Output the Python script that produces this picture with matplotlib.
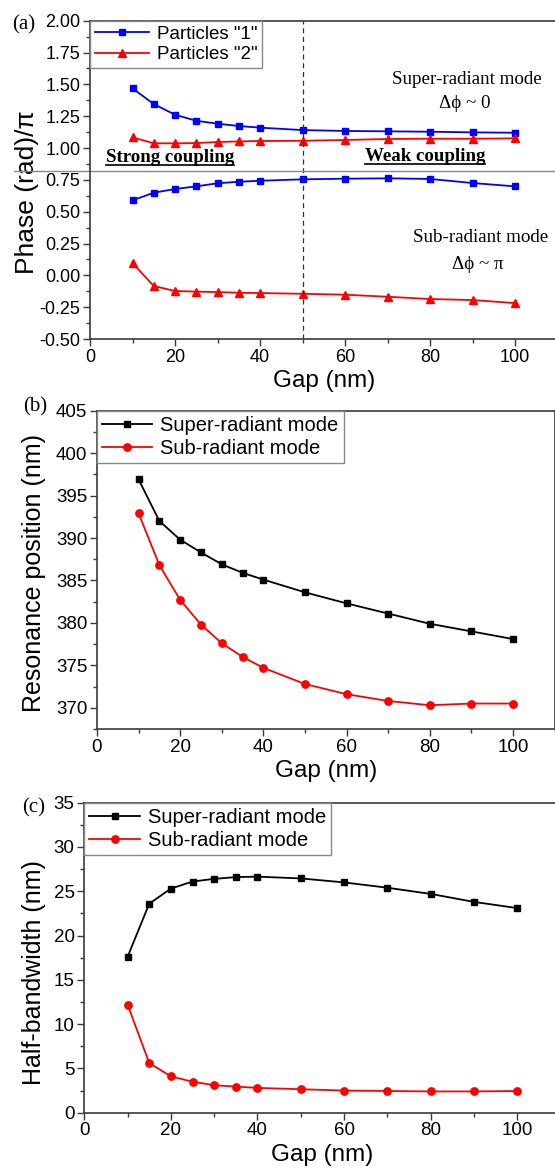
import matplotlib
matplotlib.use('Agg')
import matplotlib.pyplot as plt
from matplotlib.ticker import MultipleLocator
from matplotlib.lines import Line2D

plt.rcParams['font.family'] = ['Liberation Sans', 'DejaVu Sans']

gap_a = [10, 15, 20, 25, 30, 35, 40, 50, 60, 70, 80, 90, 100]
p1_super = [1.469, 1.345, 1.262, 1.214, 1.191, 1.173, 1.160, 1.141, 1.134, 1.131, 1.128, 1.123, 1.120]
p2_super = [1.084, 1.037, 1.037, 1.039, 1.047, 1.052, 1.055, 1.057, 1.063, 1.071, 1.073, 1.073, 1.076]
p1_sub = [0.589, 0.649, 0.678, 0.699, 0.723, 0.735, 0.743, 0.754, 0.759, 0.762, 0.757, 0.725, 0.699]
p2_sub = [0.097, -0.084, -0.123, -0.128, -0.131, -0.137, -0.139, -0.145, -0.152, -0.168, -0.186, -0.194, -0.218]

gap = [10, 15, 20, 25, 30, 35, 40, 50, 60, 70, 80, 90, 100]
res_super = [396.9, 392.0, 389.8, 388.3, 386.9, 385.9, 385.1, 383.6, 382.3, 381.1, 379.9, 379.0, 378.1]
res_sub = [392.9, 386.8, 382.7, 379.8, 377.6, 376.0, 374.7, 372.8, 371.6, 370.8, 370.3, 370.5, 370.5]
hbw_super = [17.6, 23.6, 25.3, 26.1, 26.4, 26.6, 26.65, 26.45, 26.0, 25.4, 24.7, 23.8, 23.1]
hbw_sub = [12.2, 5.6, 4.1, 3.5, 3.1, 2.95, 2.8, 2.65, 2.5, 2.45, 2.4, 2.4, 2.45]

W, H = 555, 1176
fig = plt.figure(figsize=(W / 100, H / 100), dpi=100)
serif = ['Liberation Serif', 'DejaVu Serif']


def px_axes(left, top, bottom, px_per_unit, xmax=110):
    width = xmax * px_per_unit
    return fig.add_axes([left / W, 1 - bottom / H, width / W, (bottom - top) / H])


def style(ax, ymajor, yminor, tsize):
    for s in ax.spines.values():
        s.set_color('#3a3a3a')
        s.set_linewidth(1.2)
    ax.set_xlim(0, 110)
    ax.xaxis.set_major_locator(MultipleLocator(20))
    ax.xaxis.set_minor_locator(MultipleLocator(10))
    ax.yaxis.set_major_locator(MultipleLocator(ymajor))
    ax.yaxis.set_minor_locator(MultipleLocator(yminor))
    ax.tick_params(which='both', direction='out', top=False, right=False,
                   labelsize=tsize, color='#3a3a3a', width=1.0)
    ax.tick_params(which='major', length=5, pad=2)
    ax.tick_params(which='minor', length=3)
    ax.set_xlabel('Gap (nm)', fontsize=17.5, labelpad=3)


def legend(ax, size, hl):
    leg = ax.legend(loc='upper left', borderaxespad=0, fontsize=size, handlelength=hl,
                    fancybox=False, framealpha=1, edgecolor='#888888',
                    borderpad=0.25, labelspacing=0.2, handletextpad=0.4)
    leg.get_frame().set_linewidth(1.0)
    return leg


# ---- panel (a)
ax = px_axes(90, 20.7, 339, 4.25)
ax.plot(gap_a, p1_super, color='blue', marker='s', ms=4.8, lw=1.3, label='Particles "1"')
ax.plot(gap_a, p2_super, color='red', marker='^', ms=5.3, lw=1.3, label='Particles "2"')
ax.plot(gap_a, p1_sub, color='blue', marker='s', ms=4.8, lw=1.3)
ax.plot(gap_a, p2_sub, color='red', marker='^', ms=5.3, lw=1.3)
ax.set_ylim(-0.5, 2.0)
style(ax, 0.25, 0.125, 13)
ax.yaxis.set_major_formatter(lambda v, p: f'{v:.2f}')
ax.set_ylabel('Phase (rad)/\u03c0', fontsize=19)
ax.yaxis.set_label_coords(-0.109, 0.462)
ax.axvline(50, color='#333333', lw=0.9, ls=(0, (4, 3)))
ax.axhline(0.822, xmin=-0.163, xmax=1.1, color='#888888', lw=1.0, clip_on=False)
legend(ax, 13.5, 2.9)

ax.text(88.7, 1.542, 'Super-radiant mode', ha='center', va='center', family=serif, fontsize=13.7)
ax.text(88.2, 1.346, '\u0394\u03d5 ~ 0', ha='center', va='center', family=serif, fontsize=13.7)
ax.text(92.0, 0.300, 'Sub-radiant mode', ha='center', va='center', family=serif, fontsize=13.7)
ax.text(91.2, 0.088, '\u0394\u03d5 ~ \u03c0', ha='center', va='center', family=serif, fontsize=13.7)
t1 = ax.text(3.8, 0.922, 'Strong coupling', ha='left', va='center', family=serif,
             fontsize=13.6, fontweight='bold')
t2 = ax.text(64.7, 0.937, 'Weak coupling', ha='left', va='center', family=serif,
             fontsize=13.6, fontweight='bold')
fig.text(12 / W, 1 - 25 / H, '(a)', family=serif, fontsize=15, va='center')

# ---- panel (b)
bx = px_axes(97, 410.7, 729, 4.16)
bx.plot(gap, res_super, color='black', marker='s', ms=4.8, lw=1.3, label='Super-radiant mode')
bx.plot(gap, res_sub, color='red', marker='o', ms=5.3, lw=1.3, label='Sub-radiant mode')
bx.set_ylim(367.5, 405)
style(bx, 5, 2.5, 13.5)
bx.set_ylabel('Resonance position (nm)', fontsize=18)
bx.yaxis.set_label_coords(-0.111, 0.49)
legend(bx, 14.5, 2.5)
fig.text(23 / W, 1 - 407 / H, '(b)', family=serif, fontsize=15, va='center')

# ---- panel (c)
cx = px_axes(84.3, 802.7, 1112.7, 4.33)
cx.plot(gap, hbw_super, color='black', marker='s', ms=4.8, lw=1.3, label='Super-radiant mode')
cx.plot(gap, hbw_sub, color='red', marker='o', ms=5.3, lw=1.3, label='Sub-radiant mode')
cx.set_ylim(0, 35)
style(cx, 5, 2.5, 13.5)
cx.set_ylabel('Half-bandwidth (nm)', fontsize=18)
cx.yaxis.set_label_coords(-0.08, 0.451)
legend(cx, 14.5, 2.5)
fig.text(22 / W, 1 - 808 / H, '(c)', family=serif, fontsize=15, va='center')

# underline the coupling labels
fig.canvas.draw()
r = fig.canvas.get_renderer()
inv = fig.transFigure.inverted()
for t in (t1, t2):
    bb = t.get_window_extent(r)
    (x0, y0), (x1, _) = inv.transform([(bb.x0, bb.y0 + 1), (bb.x1, bb.y0)])
    fig.add_artist(Line2D([x0, x1], [y0, y0], transform=fig.transFigure, color='black', lw=1.2))

fig.savefig('out.png', dpi=100)
